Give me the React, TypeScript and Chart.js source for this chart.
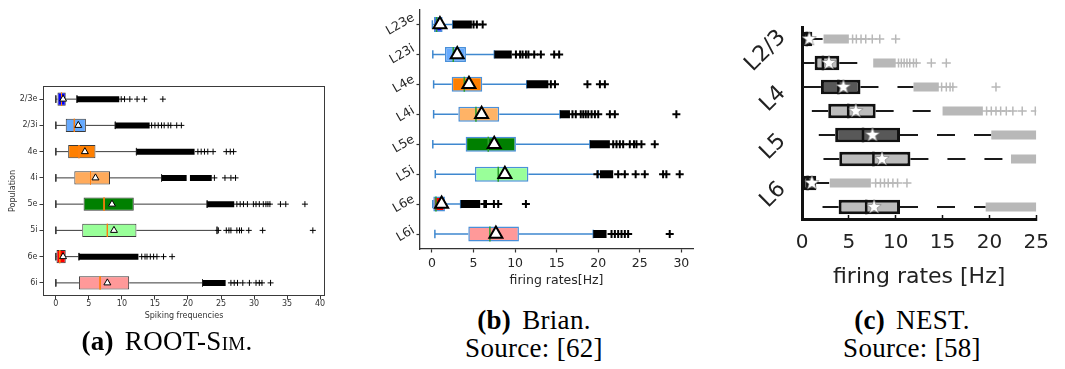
import React, { useEffect, useRef } from 'react';
import { Chart, registerables } from 'chart.js';

Chart.register(...registerables);
Chart.defaults.font.family = "'DejaVu Sans', sans-serif";

// ================= (a) ROOT-Sim =================
const aCategories = ['2/3e', '2/3i', '4e', '4i', '5e', '5i', '6e', '6i'];
const aXTicks = [0, 5, 10, 15, 20, 25, 30, 35, 40];
const aXTitle = 'Spiking frequencies';
const aYTitle = 'Population';
const aLow = [0, 0, 0, 0, 0, 0, 0, 0];
const aQ1 = [0.25, 1.5, 1.87, 2.8, 4.2, 4.0, 0.1, 3.5];
const aMedian = [0.86, 2.8, 3.5, 5.25, 7.3, 7.8, 0.6, 6.7];
const aQ3 = [1.5, 4.55, 6.0, 8.2, 11.8, 12.2, 1.5, 11.1];
const aMean = [1.1, 3.4, 4.4, 6.0, 8.5, 8.8, 1.1, 7.8];
const aHigh = [3.2, 9.0, 12.2, 16.0, 22.9, 24.4, 3.5, 22.2];
const aColors = ['#0000ff', '#66aaff', '#ff7f00', '#ffab5c', '#008000', '#99ff99', '#ff0000', '#ff9999'];
// dense outlier runs: [row, from, to]
const aDense = [[1, 3.2, 9.6], [2, 9.0, 14.2], [3, 12.2, 21.0], [4, 16.0, 19.8], [4, 20.3, 23.6], [5, 22.9, 27.0], [7, 3.5, 12.5], [8, 22.2, 25.7]];
const aOutliers = [
  [9.9, 10.4, 11.2, 12.3, 13.4, 16.2],
  [14.5, 15.0, 15.5, 16.0, 16.4, 17.0, 17.4, 18.3, 19.0],
  [21.5, 22.0, 22.5, 23.0, 23.8, 25.8, 26.4, 26.9],
  [24.0, 25.6, 26.5, 27.2],
  [27.4, 27.9, 28.4, 29.0, 29.9, 30.3, 30.8, 31.4, 31.8, 32.1, 32.4, 34.0, 34.8, 37.7],
  [24.6, 25.8, 26.2, 26.5, 27.4, 27.8, 28.1, 29.2, 31.3, 38.9],
  [13.0, 13.5, 13.8, 14.3, 14.8, 15.3, 16.3, 17.6],
  [26.5, 27.0, 27.5, 28.3, 29.3, 30.3, 30.8, 31.2, 32.5],
];

// ================= (b) Brian =================
const bCategories = ['L23e', 'L23i', 'L4e', 'L4i', 'L5e', 'L5i', 'L6e', 'L6i'];
const bXTicks = [0, 5, 10, 15, 20, 25, 30];
const bXTitle = 'firing rates[Hz]';
const bLow = [0.05, 0.1, 0.2, 0.2, 0.1, 0.4, 0.1, 0.35];
const bQ1 = [0.24, 1.56, 2.37, 3.17, 4.05, 5.17, 0.16, 4.37];
const bMedian = [0.56, 2.56, 3.89, 5.29, 6.77, 7.97, 0.48, 6.97];
const bQ3 = [1.28, 4.09, 6.05, 8.09, 10.1, 11.6, 1.56, 10.46];
const bMean = [0.96, 3.04, 4.45, 5.97, 7.49, 8.77, 1.16, 7.69];
const bHigh = [2.5, 7.5, 11.4, 15.4, 19.0, 20.0, 3.45, 19.4];
const bColors = ['#0000ff', '#66aaff', '#ff7f00', '#ffb366', '#007f00', '#99ff99', '#ff0000', '#ff9999'];
const bDense = [[1, 2.5, 4.8], [2, 7.5, 9.6], [3, 11.4, 14.0], [4, 15.4, 16.6], [5, 19.0, 21.4], [6, 20.2, 21.8], [7, 3.45, 5.8], [8, 19.4, 21.0]];
const bOutliers = [
  [5.0, 5.4, 6.1],
  [10.1, 10.6, 10.9, 11.3, 11.6, 12.3, 13.1, 14.7, 15.3],
  [14.3, 14.8, 18.7, 20.2, 20.8],
  [16.9, 17.3, 17.9, 18.2, 18.5, 18.8, 19.2, 19.6, 20.0, 21.4, 22.0, 29.4],
  [21.8, 22.2, 22.6, 23.0, 23.8, 24.3, 24.6, 25.2, 26.8],
  [19.9, 22.4, 23.2, 24.5, 25.6, 27.8, 28.2, 29.8],
  [6.3, 6.5, 7.45, 7.97, 11.3],
  [21.6, 22.0, 22.4, 22.8, 23.2, 23.6, 28.6],
];

// ================= (c) NEST =================
const cLabels = ['L2/3', 'L4', 'L5', 'L6'];
const cLabelPos = [1.5, 3.5, 5.5, 7.5];
const cXTicks = [0, 5, 10, 15, 20, 25];
const cXTitle = 'firing rates [Hz]';
const cLow = [0, 0.17, 0.1, 1.05, 1.79, 2.29, 0, 2.19];
const cQ1 = [0, 1.35, 2.02, 2.8, 3.54, 3.98, 0, 3.91];
const cMedian = [0.5, 2.23, 3.88, 4.93, 6.51, 7.62, 0.6, 6.85];
const cQ3 = [1.1, 3.98, 6.24, 7.86, 10.46, 11.57, 1.52, 10.46];
const cMean = [0.78, 2.87, 4.42, 5.74, 7.52, 8.54, 1.05, 7.69];
const cHigh = [2.2, 7.6, 11.9, 14.95, 20.2, 22.27, 2.9, 19.6];
const cColors = ['#3c3c3c', '#bcbcbc', '#585858', '#bcbcbc', '#585858', '#bcbcbc', '#3c3c3c', '#bcbcbc'];
const cDense = [[1, 2.3, 5.0], [2, 7.6, 10.0], [3, 11.9, 14.6], [4, 15.0, 19.3], [5, 20.2, 25], [6, 22.3, 25], [7, 2.97, 7.35], [8, 19.6, 25]];
const cOutliers = [
  [5.4, 5.8, 6.3, 6.8, 7.5, 8.3, 10.0],
  [10.3, 10.6, 10.9, 11.2, 11.5, 11.9, 12.2, 13.8, 15.4],
  [14.9, 15.4, 15.8, 16.1, 20.7],
  [19.7, 20.2, 20.7, 21.2, 21.8, 22.5, 23.5, 24.9],
  [],
  [],
  [7.86, 8.37, 8.8, 9.2, 9.7, 10.2, 11.2],
  [],
];

type Seg = [number, number, number, number];

function seg(points: Seg[]) {
  const d: any[] = [];
  points.forEach(([x1, y1, x2, y2]) => {
    d.push({ x: x1, y: y1 }, { x: x2, y: y2 }, { x: x2, y: null });
  });
  return d;
}

interface PanelData {
  low: number[]; q1: number[]; median: number[]; q3: number[]; mean: number[]; high: number[];
  dense: number[][]; outliers: number[][]; colors: string[];
}

interface PanelStyle {
  boxFrac: number; boxBorder: string; boxBorderWidth: number;
  whiskerColor: string; whiskerWidth: number; upperDash: number[];
  capHalf: number;
  medianColor: string; medianWidth: number;
  meanStyle: any; meanRadius: number; meanFill: string; meanBorder: string; meanBorderWidth: number;
  outColor: string; outRadius: number; outWidth: number; bandHeight: number;
}

function buildDatasets(d: PanelData, s: PanelStyle) {
  const idx = d.q1.map((_, i) => i);
  const h = s.boxFrac / 2;
  const lineBase = {
    type: 'line', pointRadius: 0, pointHoverRadius: 0, pointHitRadius: 0,
    fill: false, tension: 0, spanGaps: false, borderCapStyle: 'butt',
  };
  const ds: any[] = [];
  ds.push({
    ...lineBase, label: 'dense outliers', order: 4, borderColor: s.outColor, borderWidth: s.bandHeight,
    data: seg(d.dense.map(([r, a, b]) => [a, r, b, r] as Seg)),
  });
  ds.push({
    type: 'line', label: 'outliers', order: 3, showLine: false, pointStyle: 'cross',
    pointRadius: s.outRadius, pointHoverRadius: s.outRadius, pointBorderWidth: s.outWidth,
    pointBorderColor: s.outColor, pointBackgroundColor: s.outColor,
    data: d.outliers.flatMap((vals, i) => vals.map((v) => ({ x: v, y: i + 1 }))),
  });
  ds.push({
    ...lineBase, label: 'lower whiskers', order: 6, borderColor: s.whiskerColor, borderWidth: s.whiskerWidth,
    data: seg(idx.map((i) => [d.low[i], i + 1, d.q1[i], i + 1] as Seg)),
  });
  ds.push({
    ...lineBase, label: 'upper whiskers', order: 6, borderColor: s.whiskerColor, borderWidth: s.whiskerWidth,
    borderDash: s.upperDash,
    data: seg(idx.map((i) => [d.q3[i], i + 1, d.high[i], i + 1] as Seg)),
  });
  if (s.capHalf > 0) {
    ds.push({
      ...lineBase, label: 'caps', order: 6, borderColor: s.whiskerColor, borderWidth: s.whiskerWidth,
      data: seg(idx.flatMap((i) => [
        [d.low[i], i + 1 - s.capHalf, d.low[i], i + 1 + s.capHalf] as Seg,
        [d.high[i], i + 1 - s.capHalf, d.high[i], i + 1 + s.capHalf] as Seg,
      ])),
    });
  }
  ds.push({
    type: 'bar', indexAxis: 'y', label: 'boxes', order: 5,
    data: idx.map((i) => ({ x: [d.q1[i], d.q3[i]], y: i + 1 })),
    backgroundColor: d.colors, borderColor: s.boxBorder, borderWidth: s.boxBorderWidth,
    borderSkipped: false, barPercentage: s.boxFrac, categoryPercentage: 1, inflateAmount: 0,
  });
  ds.push({
    ...lineBase, label: 'medians', order: 2, borderColor: s.medianColor, borderWidth: s.medianWidth,
    data: seg(idx.map((i) => [d.median[i], i + 1 - h, d.median[i], i + 1 + h] as Seg)),
  });
  ds.push({
    type: 'line', label: 'means', order: 1, showLine: false, pointStyle: s.meanStyle,
    pointRadius: s.meanRadius, pointHoverRadius: s.meanRadius,
    pointBackgroundColor: s.meanFill, pointBorderColor: s.meanBorder, pointBorderWidth: s.meanBorderWidth,
    data: idx.map((i) => ({ x: d.mean[i], y: i + 1 })),
  });
  return ds;
}

function makeStar(size: number) {
  const c = document.createElement('canvas');
  c.width = size; c.height = size;
  const ctx = c.getContext('2d')!;
  const cx = size / 2, cy = size / 2, R = size / 2 - 0.5, r = R * 0.42;
  ctx.beginPath();
  for (let k = 0; k < 10; k++) {
    const ang = -Math.PI / 2 + (k * Math.PI) / 5;
    const rad = k % 2 === 0 ? R : r;
    ctx.lineTo(cx + rad * Math.cos(ang), cy + rad * Math.sin(ang));
  }
  ctx.closePath();
  ctx.fillStyle = '#ffffff';
  ctx.fill();
  ctx.strokeStyle = 'rgba(110,110,110,0.7)';
  ctx.lineWidth = 0.8;
  ctx.stroke();
  return c;
}

function rotatedLabelsPlugin(texts: string[], values: number[], fontSize: number, color: string, angle: number, gap: number) {
  return {
    id: 'rotatedLabels',
    afterDraw(chart: any) {
      const { ctx, chartArea, scales } = chart;
      const th = (angle * Math.PI) / 180;
      ctx.save();
      ctx.font = `${fontSize}px 'DejaVu Sans'`;
      ctx.fillStyle = color;
      ctx.textAlign = 'center';
      ctx.textBaseline = 'middle';
      texts.forEach((t, i) => {
        const w = ctx.measureText(t).width;
        const hh = fontSize * 1.1;
        const W = w * Math.cos(th) + hh * Math.sin(th);
        const cx = chartArea.left - gap - W / 2;
        const cy = scales.y.getPixelForValue(values[i]);
        ctx.save();
        ctx.translate(cx, cy);
        ctx.rotate(-th);
        ctx.fillText(t, 0, 0);
        ctx.restore();
      });
      ctx.restore();
    },
  };
}

const framePlugin = {
  id: 'frame',
  afterDatasetsDraw(chart: any) {
    const { ctx, chartArea } = chart;
    ctx.save();
    ctx.strokeStyle = '#3a3a3a';
    ctx.lineWidth = 1;
    const l = Math.round(chartArea.left) + 0.5, t = Math.round(chartArea.top) + 0.5;
    const r = Math.round(chartArea.right) - 0.5, b = Math.round(chartArea.bottom) - 0.5;
    ctx.strokeRect(l, t, r - l, b - t);
    ctx.restore();
  },
};

const baseOptions = {
  animation: false,
  responsive: false,
  devicePixelRatio: 1,
  events: [],
  plugins: { legend: { display: false }, tooltip: { enabled: false } },
};

function configA() {
  const data: PanelData = { low: aLow, q1: aQ1, median: aMedian, q3: aQ3, mean: aMean, high: aHigh, dense: aDense, outliers: aOutliers, colors: aColors };
  const style: PanelStyle = {
    boxFrac: 0.5, boxBorder: '#3a3a3a', boxBorderWidth: 1,
    whiskerColor: '#3a3a3a', whiskerWidth: 1, upperDash: [], capHalf: 0.14,
    medianColor: '#ff7f0e', medianWidth: 1,
    meanStyle: 'triangle', meanRadius: 4, meanFill: '#ffffff', meanBorder: '#000000', meanBorderWidth: 1,
    outColor: '#000000', outRadius: 3, outWidth: 1, bandHeight: 6,
  };
  const tickGrid = { display: true, drawOnChartArea: false, drawTicks: true, tickLength: 3.5, tickColor: '#3a3a3a', tickWidth: 1, offset: false };
  return {
    type: 'bar',
    data: { datasets: buildDatasets(data, style) },
    options: {
      ...baseOptions,
      layout: { padding: { left: 0, right: 15, top: 16, bottom: 0 } },
      scales: {
        x: {
          type: 'linear', min: -1.94, max: 40.74, offset: false, grid: tickGrid, border: { display: false },
          ticks: { font: { size: 8 }, color: '#333', padding: 0, maxRotation: 0, autoSkip: false },
          title: { display: true, text: aXTitle, font: { size: 8 }, color: '#333', padding: { top: 0, bottom: 11 } },
          afterBuildTicks: (s: any) => { s.ticks = aXTicks.map((v) => ({ value: v })); },
          afterFit: (s: any) => { s.height = 36; },
        },
        y: {
          type: 'linear', min: 0.5, max: 8.5, reverse: true, offset: false, grid: tickGrid, border: { display: false },
          ticks: {
            font: { size: 8 }, color: '#333', padding: 2, autoSkip: false,
            callback: (v: any) => aCategories[Math.round(v) - 1] ?? '',
          },
          title: { display: true, text: aYTitle, font: { size: 8 }, color: '#333', padding: { top: 8, bottom: 0 } },
          afterBuildTicks: (s: any) => { s.ticks = aCategories.map((_, i) => ({ value: i + 1 })); },
          afterFit: (s: any) => { s.width = 43; },
        },
      },
    },
    plugins: [framePlugin],
  };
}

function configB() {
  const data: PanelData = { low: bLow, q1: bQ1, median: bMedian, q3: bQ3, mean: bMean, high: bHigh, dense: bDense, outliers: bOutliers, colors: bColors };
  const style: PanelStyle = {
    boxFrac: 0.5, boxBorder: '#4a90d9', boxBorderWidth: 1.5,
    whiskerColor: '#3f88cf', whiskerWidth: 1.5, upperDash: [], capHalf: 0.14,
    medianColor: '#2ca02c', medianWidth: 1.5,
    meanStyle: 'triangle', meanRadius: 7.5, meanFill: '#ffffff', meanBorder: '#000000', meanBorderWidth: 2,
    outColor: '#000000', outRadius: 4, outWidth: 2, bandHeight: 8,
  };
  const tickGrid = { display: true, drawOnChartArea: false, drawTicks: true, tickLength: 3.5, tickColor: '#333', tickWidth: 1.2, offset: false };
  return {
    type: 'bar',
    data: { datasets: buildDatasets(data, style) },
    options: {
      ...baseOptions,
      layout: { padding: { left: 0, right: 12, top: 8, bottom: 0 } },
      scales: {
        x: {
          type: 'linear', min: -1.44, max: 31.4, offset: false, grid: tickGrid,
          border: { display: true, color: '#333', width: 1.3 },
          ticks: { font: { size: 12.5 }, color: '#262626', padding: 4, maxRotation: 0, autoSkip: false },
          title: { display: true, text: bXTitle, font: { size: 12.5 }, color: '#262626', padding: { top: 0, bottom: 3.5 } },
          afterBuildTicks: (s: any) => { s.ticks = bXTicks.map((v) => ({ value: v })); },
          afterFit: (s: any) => { s.height = 43; },
        },
        y: {
          type: 'linear', min: 0.5, max: 8.5, reverse: true, offset: false, grid: tickGrid,
          border: { display: true, color: '#333', width: 1.3 },
          ticks: { display: false },
          afterBuildTicks: (s: any) => { s.ticks = bCategories.map((_, i) => ({ value: i + 1 })); },
          afterFit: (s: any) => { s.width = 60; },
        },
      },
    },
    plugins: [rotatedLabelsPlugin(bCategories, bCategories.map((_, i) => i + 1), 12.5, '#262626', 30, 3)],
  };
}

function configC() {
  const data: PanelData = { low: cLow, q1: cQ1, median: cMedian, q3: cQ3, mean: cMean, high: cHigh, dense: cDense, outliers: cOutliers, colors: cColors };
  const style: PanelStyle = {
    boxFrac: 0.6, boxBorder: '#111111', boxBorderWidth: 3,
    whiskerColor: '#1a1a1a', whiskerWidth: 1.8, upperDash: [18, 19], capHalf: 0,
    medianColor: '#111111', medianWidth: 2.5,
    meanStyle: makeStar(16), meanRadius: 7, meanFill: '#ffffff', meanBorder: '#ffffff', meanBorderWidth: 0,
    outColor: '#b8b8b8', outRadius: 4.5, outWidth: 1.5, bandHeight: 9,
  };
  return {
    type: 'bar',
    data: { datasets: buildDatasets(data, style) },
    options: {
      ...baseOptions,
      layout: { padding: { left: 0, right: 16, top: 27, bottom: 0 } },
      scales: {
        x: {
          type: 'linear', min: 0, max: 25, offset: false,
          grid: { display: true, drawOnChartArea: false, drawTicks: true, tickLength: -4, tickColor: '#111', tickWidth: 1.5, offset: false },
          border: { display: true, color: '#111', width: 3 },
          ticks: { font: { size: 20 }, color: '#222', padding: 16, maxRotation: 0, autoSkip: false },
          title: { display: true, text: cXTitle, font: { size: 22 }, color: '#222', padding: { top: 0, bottom: 1.8 } },
          afterBuildTicks: (s: any) => { s.ticks = cXTicks.map((v) => ({ value: v })); },
          afterFit: (s: any) => { s.height = 73; },
        },
        y: {
          type: 'linear', min: 0.5, max: 8.5, reverse: true, offset: false,
          grid: { display: false },
          border: { display: true, color: '#111', width: 3 },
          ticks: { display: false },
          afterFit: (s: any) => { s.width = 72; },
        },
      },
    },
    plugins: [rotatedLabelsPlugin(cLabels, cLabelPos, 22, '#222', 45, 11)],
  };
}

function ChartCanvas({ make, left, top, width, height }: { make: () => any; left: number; top: number; width: number; height: number }) {
  const ref = useRef<HTMLCanvasElement>(null);
  useEffect(() => {
    const chart = new Chart(ref.current as HTMLCanvasElement, make());
    return () => chart.destroy();
  }, []);
  return (
    <canvas
      ref={ref}
      width={width}
      height={height}
      style={{ position: 'absolute', left, top, width, height }}
    />
  );
}

const captionBase: React.CSSProperties = {
  position: 'absolute',
  width: 320,
  fontFamily: "'Liberation Serif', 'Times New Roman', serif",
  fontSize: 27,
  lineHeight: '28px',
  letterSpacing: '0.3px',
  color: '#000',
  textAlign: 'center',
  whiteSpace: 'nowrap',
};

export default function App() {
  return (
    <div style={{ position: 'absolute', left: 0, top: 0, width: 1065, height: 369, background: '#fff', overflow: 'hidden' }}>
      <ChartCanvas make={configA} left={0} top={70} width={340} height={262} />
      <ChartCanvas make={configB} left={360} top={0} width={345} height={292} />
      <ChartCanvas make={configC} left={730} top={0} width={335} height={292} />
      <div style={{ ...captionBase, left: 167 - 160, top: 327 }}>
        <b>(a)</b> <span style={{ marginLeft: 4 }}>ROOT-S<span style={{ fontVariant: 'small-caps' }}>im</span>.</span>
      </div>
      <div style={{ ...captionBase, left: 534 - 160, top: 306 }}>
        <div><b>(b)</b> <span style={{ marginLeft: 4 }}>Brian.</span></div>
        <div>Source: [62]</div>
      </div>
      <div style={{ ...captionBase, left: 912 - 160, top: 306 }}>
        <div><b>(c)</b> <span style={{ marginLeft: 4 }}>NEST.</span></div>
        <div>Source: [58]</div>
      </div>
    </div>
  );
}
